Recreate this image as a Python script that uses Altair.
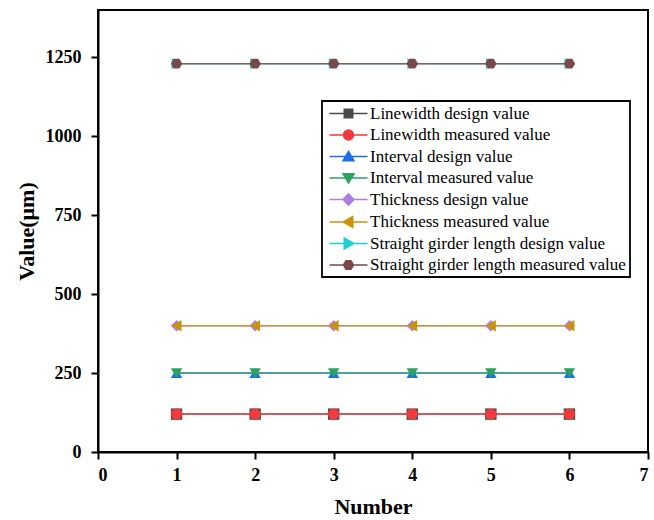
import altair as alt
import pandas as pd

numbers = [1, 2, 3, 4, 5, 6]
series_names = [
    "Linewidth design value",
    "Linewidth measured value",
    "Interval design value",
    "Interval measured value",
    "Thickness design value",
    "Thickness measured value",
    "Straight girder length design value",
    "Straight girder length measured value",
]
linewidth_design = [120, 120, 120, 120, 120, 120]
linewidth_measured = [120, 120, 120, 120, 120, 120]
interval_design = [250, 250, 250, 250, 250, 250]
interval_measured = [250, 250, 250, 250, 250, 250]
thickness_design = [400, 400, 400, 400, 400, 400]
thickness_measured = [400, 400, 400, 400, 400, 400]
girder_design = [1230, 1230, 1230, 1230, 1230, 1230]
girder_measured = [1230, 1230, 1230, 1230, 1230, 1230]
series_values = [
    linewidth_design, linewidth_measured, interval_design, interval_measured,
    thickness_design, thickness_measured, girder_design, girder_measured,
]
x_ticks = [0, 1, 2, 3, 4, 5, 6, 7]
y_ticks = [0, 250, 500, 750, 1000, 1250]

colors = ["#4a4a4a", "#f2393c", "#1c6fe8", "#2aa260", "#b07ce6", "#cc9208", "#1ed0d0", "#7a4848"]
HEX = "M-1,0L-0.5,-0.866H0.5L1,0L0.5,0.866H-0.5Z"
point_shapes = ["square", "circle", "triangle-up", "triangle-down", "diamond",
                "triangle-left", "triangle-right", HEX]
LINE = "M-3.8,0H3.8"
legend_shapes = [
    LINE + "M-0.85,-0.85H0.85V0.85H-0.85Z",
    LINE + "M-1,0A1,1 0 1,0 1,0A1,1 0 1,0 -1,0Z",
    LINE + "M0,-1L1.1,0.85H-1.1Z",
    LINE + "M0,1L1.1,-0.85H-1.1Z",
    LINE + "M0,-1.15L1.1,0L0,1.15L-1.1,0Z",
    LINE + "M-1.05,0L0.85,-1.1V1.1Z",
    LINE + "M1.05,0L-0.85,-1.1V1.1Z",
    LINE + "M-1,0L-0.5,-0.866H0.5L1,0L0.5,0.866H-0.5Z",
]

rows = []
for name, vals in zip(series_names, series_values):
    for n, v in zip(numbers, vals):
        rows.append({"Number": n, "Value": v, "Series": name})
df = pd.DataFrame(rows)

FONT = "Liberation Serif"
x_enc = alt.X("Number:Q", scale=alt.Scale(domain=[0, 7], nice=False),
              axis=alt.Axis(values=x_ticks, title="Number", format="d",
                            labelPadding=7, titlePadding=12))
y_enc = alt.Y("Value:Q", scale=alt.Scale(domain=[0, 1400], nice=False),
              axis=alt.Axis(values=y_ticks, title="Value(μm)", format="d",
                            labelPadding=10, titlePadding=7))

color_scale = alt.Scale(domain=series_names, range=colors)

line_layers = []
point_layers = []
for name, shp, col in zip(series_names, point_shapes, colors):
    base = alt.Chart(df).transform_filter(alt.datum.Series == name)
    line_layers.append(
        base.mark_line(strokeWidth=1.5, opacity=0.8, color=col).encode(x=x_enc, y=y_enc)
    )
    point_layers.append(
        base.mark_point(filled=True, opacity=1, size=130, shape=shp, fill=col)
        .encode(x=x_enc, y=y_enc)
    )

# legend-only layer: its points sit outside the x domain and are clipped away
legend_layer = alt.Chart(df).transform_calculate(Number="-100").mark_point(
    filled=True, opacity=1, size=100, strokeWidth=1.5, clip=True
).encode(
    x=x_enc, y=y_enc,
    fill=alt.Fill("Series:N", scale=color_scale, title=None),
    stroke=alt.Stroke("Series:N", scale=color_scale, title=None),
    shape=alt.Shape("Series:N", scale=alt.Scale(domain=series_names, range=legend_shapes), title=None),
)

chart = alt.layer(*line_layers, *point_layers, legend_layer).properties(
    width=550, height=442,
    autosize=alt.AutoSizeParams(type="none"),
    padding={"left": 98, "top": 10, "right": 6, "bottom": 68},
).configure_view(
    stroke="black", strokeWidth=2
).configure_axis(
    grid=False, domainColor="black", domainWidth=2, tickColor="black",
    tickWidth=2, tickSize=7, labelFont=FONT, labelFontWeight="bold",
    labelFontSize=18, labelColor="black", titleFont=FONT, titleFontWeight="bold",
    titleFontSize=22, titleColor="black",
).configure_legend(
    orient="none", legendX=224, legendY=91, strokeColor="black", strokeWidth=1.8,
    fillColor="white", padding=4, labelFont=FONT, labelFontSize=17, labelColor="black",
    symbolSize=100, symbolStrokeWidth=1.5, symbolOffset=14, labelOffset=13,
    rowPadding=3.5, labelLimit=400,
)

chart.save("out.html", embed_options={"renderer": "svg", "actions": False})
